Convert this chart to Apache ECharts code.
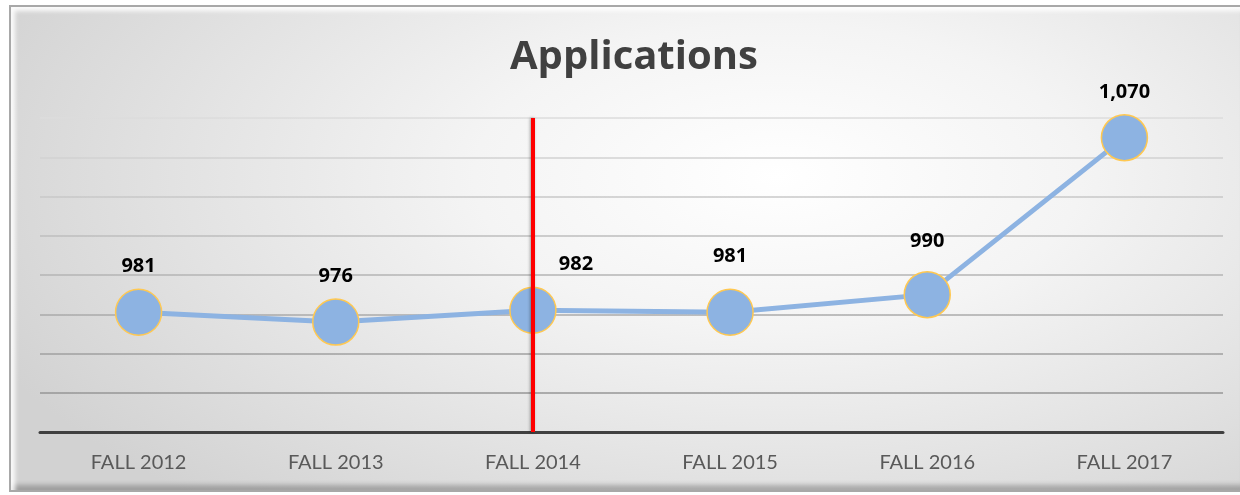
<!DOCTYPE html>
<html lang="en">
<head>
    <meta charset="UTF-8">
    <title>Applications</title>
    <script src="https://cdn.jsdelivr.net/npm/echarts@6/dist/echarts.min.js"></script>
    <style>
        html, body { margin: 0; padding: 0; background: #fff; }
        #frame {
            position: absolute; left: 9px; top: 5px; width: 1240px; height: 487px;
            box-sizing: border-box;
            border: 2px solid #a8a8a8;
            background: radial-gradient(ellipse 70% 90% at 62% 35%, #ffffff 0%, #f4f4f4 35%, #e2e2e2 70%, #d2d2d2 100%);
            box-shadow: inset 4px 4px 4px rgba(255,255,255,0.9), inset -3px -5px 5px rgba(0,0,0,0.25);
        }
        #main { position: absolute; left: 0; top: 0; width: 1240px; height: 495px; }
    </style>
</head>
<body>
    <div id="frame"></div>
    <div id="main"></div>
    <script>
        // chart data
        var categories = ['FALL 2012', 'FALL 2013', 'FALL 2014', 'FALL 2015', 'FALL 2016', 'FALL 2017'];
        var applications = [981, 976, 982, 981, 990, 1070];
        var markedTerm = 'FALL 2014';
        // label nudges so they sit where the original had them
        var labelShift = [[0, 0], [0, 0], [43, 0], [0, -10], [0, -8], [0, 0]];

        var chart = echarts.init(document.getElementById('main'));

        var seriesData = applications.map(function (v, i) {
            return {
                value: v,
                label: { offset: labelShift[i] }
            };
        });

        var option = {
            animation: false,
            backgroundColor: 'transparent',
            title: {
                text: 'Applications',
                left: 505,
                top: 33,
                textStyle: {
                    fontFamily: 'Open Sans',
                    fontWeight: 'bold',
                    fontSize: 40,
                    color: '#404040'
                }
            },
            grid: { left: 40, right: 17, top: 118, bottom: 63 },
            xAxis: {
                type: 'category',
                data: categories,
                boundaryGap: true,
                axisLine: { lineStyle: { color: '#404040', width: 3 } },
                axisTick: { show: false },
                axisLabel: {
                    fontFamily: 'Lato',
                    fontSize: 20,
                    color: '#595959',
                    margin: 21
                }
            },
            yAxis: {
                type: 'value',
                min: 920,
                max: 1080,
                interval: 20,
                axisLine: { show: false },
                axisTick: { show: false },
                axisLabel: { show: false },
                splitLine: {
                    lineStyle: {
                        width: 1.5,
                        color: new echarts.graphic.LinearGradient(0, 118, 0, 432, [
                            { offset: 0, color: '#dcdcdc' },
                            { offset: 0.5, color: '#b4b4b4' },
                            { offset: 1, color: '#8c8c8c' }
                        ], true)
                    }
                }
            },
            series: [{
                type: 'line',
                data: seriesData,
                symbol: 'circle',
                symbolSize: 46,
                lineStyle: { color: '#8db3e2', width: 5 },
                itemStyle: { color: '#8db3e2', borderColor: '#ffc851', borderWidth: 1.5 },
                label: {
                    show: true,
                    position: 'top',
                    distance: 12,
                    fontFamily: 'Open Sans',
                    fontWeight: 'bold',
                    fontSize: 20,
                    color: '#000',
                    formatter: function (p) { return p.value.toLocaleString('en-US'); }
                },
                markLine: {
                    symbol: 'none',
                    silent: true,
                    label: { show: false },
                    lineStyle: {
                        color: '#ff0000',
                        width: 4,
                        type: 'solid',
                        shadowColor: 'rgba(0,0,0,0.35)',
                        shadowBlur: 3,
                        shadowOffsetX: -1
                    },
                    data: [{ xAxis: markedTerm }]
                },
                z: 3
            }]
        };

        chart.setOption(option);
    </script>
</body>
</html>
